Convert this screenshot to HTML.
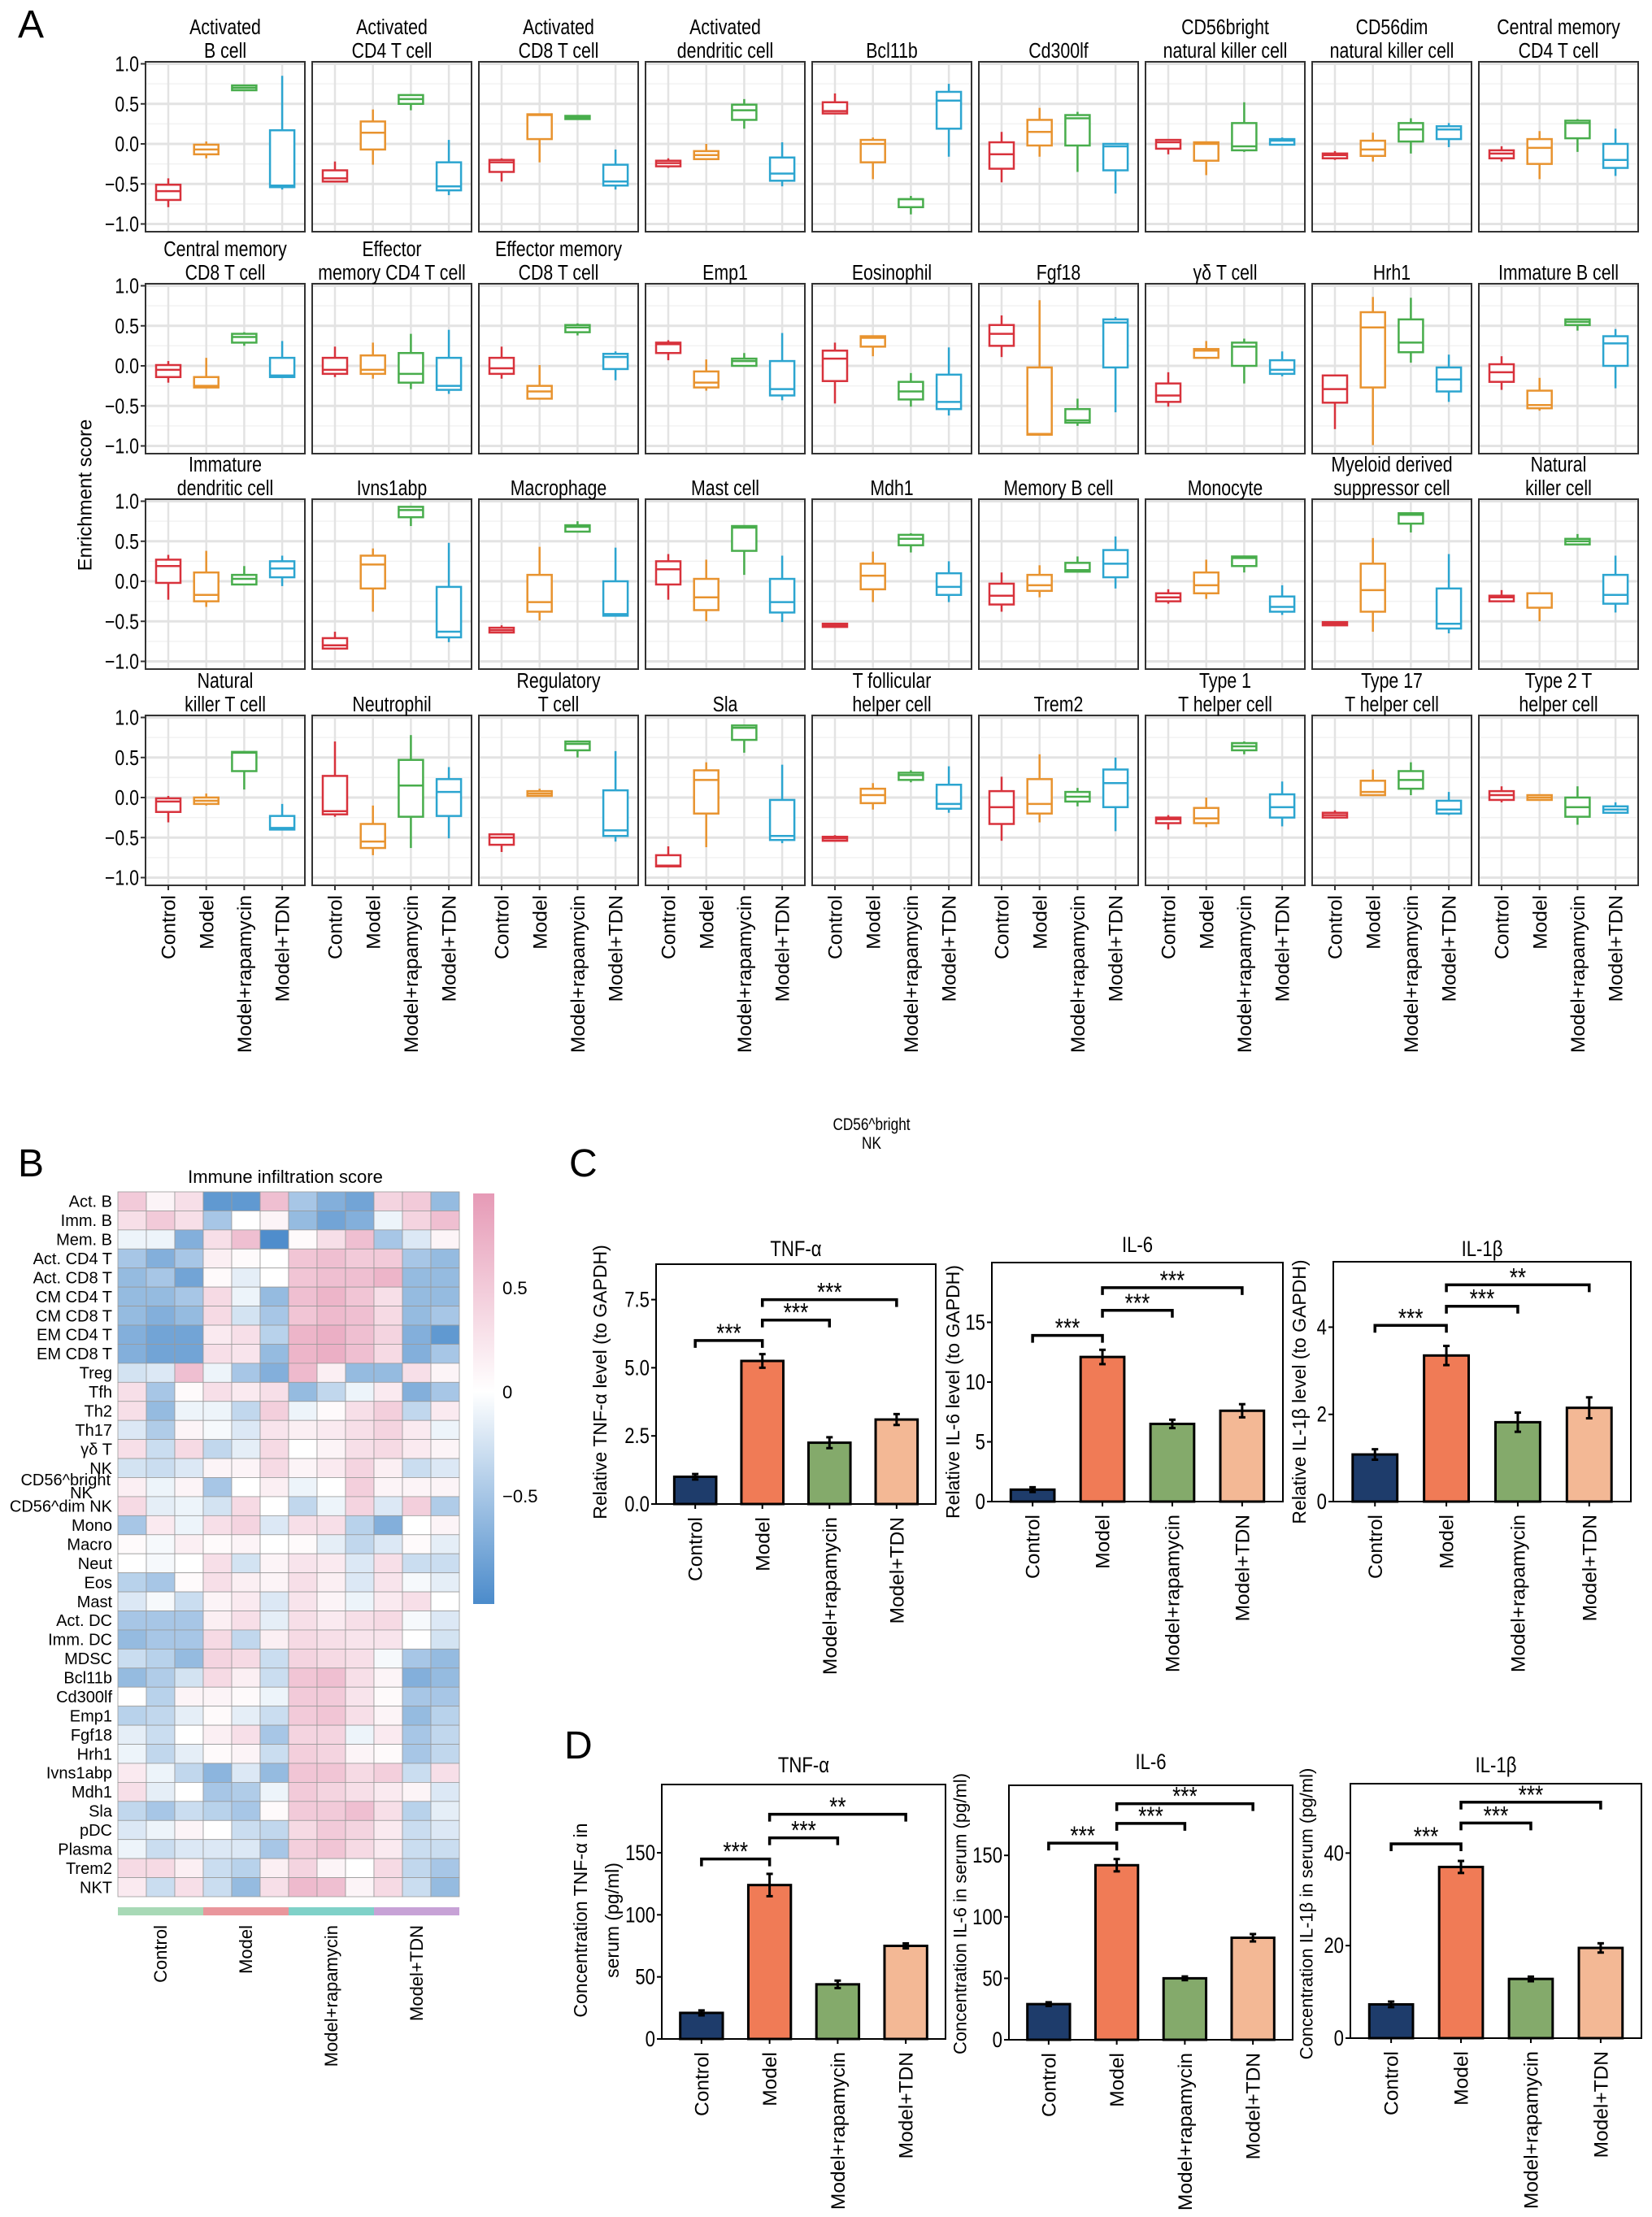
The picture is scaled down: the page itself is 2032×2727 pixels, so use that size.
<!DOCTYPE html>
<html><head><meta charset="utf-8">
<style>
html,body{margin:0;padding:0;background:#fff;}
svg{display:block;}
.n{font-family:"Liberation Sans Narrow","Liberation Sans",sans-serif;}
.r{font-family:"Liberation Sans",sans-serif;}
</style></head>
<body>
<svg id="fig" width="2032" height="2727" viewBox="0 0 2032 2727" xmlns="http://www.w3.org/2000/svg">
<defs>
<linearGradient id="cbar" x1="0" y1="0" x2="0" y2="1">
<stop offset="0" stop-color="#e69ab6"/><stop offset="0.483" stop-color="#ffffff"/><stop offset="1" stop-color="#4b8bcb"/>
</linearGradient>
</defs>
</svg>
<script>
// ---------- Panel A data ----------
const groups = ["Control","Model","Model+rapamycin","Model+TDN"];
const boxColors = ["#d8323c","#e8932f","#48ad4c","#2ca5d0"];
const panelTitles = [
["Activated","B cell"],["Activated","CD4 T cell"],["Activated","CD8 T cell"],["Activated","dendritic cell"],["","Bcl11b"],["","Cd300lf"],["CD56bright","natural killer cell"],["CD56dim","natural killer cell"],["Central memory","CD4 T cell"],
["Central memory","CD8 T cell"],["Effector","memory CD4 T cell"],["Effector memory","CD8 T cell"],["","Emp1"],["","Eosinophil"],["","Fgf18"],["","γδ T cell"],["","Hrh1"],["","Immature B cell"],
["Immature","dendritic cell"],["","Ivns1abp"],["","Macrophage"],["","Mast cell"],["","Mdh1"],["","Memory B cell"],["","Monocyte"],["Myeloid derived","suppressor cell"],["Natural","killer cell"],
["Natural","killer T cell"],["","Neutrophil"],["Regulatory","T cell"],["","Sla"],["T follicular","helper cell"],["","Trem2"],["Type 1","T helper cell"],["Type 17","T helper cell"],["Type 2 T","helper cell"]
];
// each panel: 4 groups of [min,q1,median,q3,max]
const boxStats = [
[[-0.79,-0.70,-0.59,-0.51,-0.43],[-0.18,-0.13,-0.07,-0.01,0.03],[0.67,0.67,0.70,0.73,0.74],[-0.57,-0.54,-0.52,0.17,0.85]],
[[-0.48,-0.47,-0.43,-0.33,-0.22],[-0.26,-0.07,0.14,0.28,0.43],[0.42,0.50,0.56,0.61,0.61],[-0.64,-0.58,-0.53,-0.23,0.05]],
[[-0.47,-0.35,-0.23,-0.20,-0.18],[-0.23,0.06,0.36,0.37,0.38],[0.31,0.31,0.33,0.35,0.35],[-0.57,-0.52,-0.47,-0.26,-0.07]],
[[-0.30,-0.28,-0.24,-0.21,-0.18],[-0.19,-0.19,-0.14,-0.09,0.00],[0.19,0.30,0.42,0.49,0.56],[-0.53,-0.46,-0.37,-0.17,0.02]],
[[0.38,0.38,0.41,0.52,0.63],[-0.44,-0.23,0.00,0.05,0.08],[-0.88,-0.79,-0.69,-0.69,-0.65],[-0.16,0.19,0.54,0.65,0.75]],
[[-0.48,-0.31,-0.13,0.02,0.15],[-0.16,-0.02,0.15,0.30,0.45],[-0.35,-0.02,0.32,0.36,0.40],[-0.62,-0.33,-0.03,0.00,0.01]],
[[-0.13,-0.06,0.02,0.05,0.06],[-0.39,-0.21,0.00,0.02,0.03],[-0.10,-0.08,-0.03,0.26,0.52],[-0.02,-0.01,0.04,0.06,0.08]],
[[-0.20,-0.18,-0.14,-0.12,-0.09],[-0.22,-0.15,-0.07,0.04,0.14],[-0.12,0.03,0.18,0.26,0.32],[-0.04,0.06,0.18,0.22,0.26]],
[[-0.22,-0.18,-0.12,-0.08,-0.03],[-0.44,-0.25,-0.05,0.06,0.16],[-0.10,0.07,0.26,0.29,0.31],[-0.40,-0.30,-0.20,0.00,0.19]],
[[-0.21,-0.14,-0.05,0.01,0.06],[-0.27,-0.27,-0.25,-0.14,0.10],[0.25,0.29,0.36,0.40,0.42],[-0.14,-0.14,-0.12,0.10,0.31]],
[[-0.14,-0.10,-0.05,0.10,0.24],[-0.16,-0.10,-0.05,0.13,0.29],[-0.29,-0.21,-0.10,0.16,0.40],[-0.35,-0.30,-0.25,0.10,0.45]],
[[-0.16,-0.10,-0.03,0.10,0.24],[-0.41,-0.41,-0.32,-0.25,0.01],[0.38,0.42,0.48,0.51,0.53],[-0.18,-0.04,0.11,0.15,0.18]],
[[0.07,0.16,0.27,0.29,0.32],[-0.31,-0.27,-0.21,-0.07,0.08],[0.00,0.00,0.06,0.09,0.16],[-0.43,-0.37,-0.29,0.06,0.41]],
[[-0.47,-0.19,0.09,0.19,0.29],[0.12,0.24,0.35,0.37,0.38],[-0.51,-0.42,-0.32,-0.20,-0.09],[-0.62,-0.54,-0.45,-0.11,0.23]],
[[0.11,0.25,0.40,0.51,0.63],[-0.86,-0.86,-0.85,-0.02,0.82],[-0.75,-0.71,-0.68,-0.54,-0.41],[-0.58,-0.02,0.54,0.58,0.61]],
[[-0.51,-0.45,-0.37,-0.22,-0.08],[0.10,0.10,0.19,0.21,0.31],[-0.22,0.00,0.24,0.29,0.34],[-0.13,-0.10,-0.05,0.07,0.18]],
[[-0.79,-0.46,-0.29,-0.12,-0.12],[-0.99,-0.27,0.48,0.67,0.86],[0.04,0.17,0.29,0.58,0.85],[-0.45,-0.32,-0.17,-0.02,0.14]],
[[-0.30,-0.20,-0.08,0.02,0.12],[-0.56,-0.53,-0.49,-0.31,-0.15],[0.44,0.51,0.55,0.58,0.59],[-0.28,0.00,0.28,0.37,0.46]],
[[-0.23,-0.02,0.19,0.27,0.33],[-0.32,-0.25,-0.17,0.11,0.38],[-0.04,-0.04,0.03,0.08,0.19],[-0.06,0.05,0.16,0.25,0.32]],
[[-0.84,-0.84,-0.80,-0.71,-0.63],[-0.38,-0.09,0.21,0.32,0.41],[0.69,0.80,0.89,0.93,0.93],[-0.76,-0.70,-0.63,-0.07,0.48]],
[[-0.64,-0.64,-0.61,-0.58,-0.55],[-0.49,-0.38,-0.26,0.08,0.43],[0.62,0.62,0.68,0.70,0.75],[-0.43,-0.43,-0.41,0.00,0.42]],
[[-0.23,-0.04,0.15,0.25,0.34],[-0.50,-0.36,-0.20,0.03,0.27],[0.08,0.38,0.67,0.69,0.69],[-0.51,-0.39,-0.26,0.03,0.32]],
[[-0.57,-0.57,-0.55,-0.53,-0.53],[-0.26,-0.10,0.07,0.22,0.37],[0.36,0.45,0.53,0.58,0.60],[-0.26,-0.17,-0.07,0.10,0.25]],
[[-0.38,-0.29,-0.18,-0.03,0.11],[-0.20,-0.12,-0.05,0.08,0.20],[0.12,0.12,0.14,0.23,0.31],[-0.09,0.05,0.22,0.39,0.56]],
[[-0.28,-0.25,-0.20,-0.15,-0.10],[-0.22,-0.15,-0.05,0.11,0.27],[0.11,0.19,0.29,0.31,0.32],[-0.42,-0.38,-0.32,-0.19,-0.05]],
[[-0.55,-0.55,-0.53,-0.51,-0.51],[-0.63,-0.38,-0.11,0.22,0.54],[0.61,0.72,0.83,0.85,0.85],[-0.65,-0.59,-0.53,-0.09,0.34]],
[[-0.25,-0.25,-0.20,-0.18,-0.11],[-0.50,-0.33,-0.15,-0.15,-0.14],[0.46,0.46,0.50,0.53,0.59],[-0.39,-0.28,-0.17,0.08,0.32]],
[[-0.31,-0.18,-0.05,-0.01,0.02],[-0.10,-0.08,-0.04,0.00,0.05],[0.10,0.33,0.56,0.57,0.57],[-0.40,-0.40,-0.38,-0.23,-0.08]],
[[-0.24,-0.21,-0.17,0.27,0.70],[-0.72,-0.63,-0.55,-0.33,-0.10],[-0.63,-0.24,0.15,0.47,0.78],[-0.51,-0.23,0.07,0.23,0.38]],
[[-0.68,-0.59,-0.50,-0.46,-0.45],[0.02,0.02,0.05,0.08,0.11],[0.50,0.59,0.67,0.70,0.70],[-0.55,-0.48,-0.41,0.09,0.58]],
[[-0.86,-0.86,-0.85,-0.72,-0.61],[-0.62,-0.20,0.22,0.34,0.44],[0.56,0.72,0.87,0.90,0.90],[-0.57,-0.53,-0.48,-0.03,0.41]],
[[-0.54,-0.54,-0.51,-0.49,-0.47],[-0.15,-0.07,0.03,0.11,0.18],[0.19,0.22,0.28,0.31,0.34],[-0.19,-0.14,-0.08,0.16,0.39]],
[[-0.54,-0.33,-0.12,0.08,0.26],[-0.31,-0.20,-0.08,0.23,0.54],[-0.11,-0.05,0.01,0.07,0.12],[-0.42,-0.12,0.18,0.35,0.50]],
[[-0.40,-0.32,-0.27,-0.25,-0.22],[-0.37,-0.32,-0.26,-0.13,0.00],[0.54,0.59,0.64,0.68,0.70],[-0.36,-0.25,-0.12,0.04,0.20]],
[[-0.25,-0.25,-0.22,-0.19,-0.16],[0.03,0.03,0.07,0.21,0.35],[0.03,0.11,0.22,0.33,0.44],[-0.22,-0.20,-0.15,-0.04,0.07]],
[[-0.06,-0.03,0.03,0.08,0.14],[-0.04,-0.03,0.00,0.03,0.04],[-0.34,-0.24,-0.12,0.00,0.14],[-0.19,-0.19,-0.15,-0.11,-0.06]]
];
const yTicksA = [-1,-0.5,0,0.5,1];
const yTickLabelsA = ["−1.0","−0.5","0.0","0.5","1.0"];

// ---------- Panel B data ----------
const heatRows = ["Act. B","Imm. B","Mem. B","Act. CD4 T","Act. CD8 T","CM CD4 T","CM CD8 T","EM CD4 T","EM CD8 T","Treg","Tfh","Th2","Th17","γδ T","NK","CD56^bright NK","CD56^dim NK","Mono","Macro","Neut","Eos","Mast","Act. DC","Imm. DC","MDSC","Bcl11b","Cd300lf","Emp1","Fgf18","Hrh1","Ivns1abp","Mdh1","Sla","pDC","Plasma","Trem2","NKT"];
const heatValues = [
[0.5,0.1,0.3,-0.9,-0.9,0.6,-0.5,-0.7,-0.8,0.4,0.5,-0.6],
[0.3,0.5,0.3,-0.5,0,0.1,-0.6,-0.8,-0.7,-0.1,0.4,0.6],
[-0.1,-0.1,-0.7,0.3,0.6,-1.0,0.05,0.3,0.6,-0.5,-0.2,0.1],
[-0.5,-0.7,-0.5,0.15,0.05,0,0.55,0.6,0.5,0.5,-0.5,-0.6],
[-0.6,-0.5,-0.8,0.05,-0.15,0,0.55,0.6,0.6,0.7,-0.6,-0.6],
[-0.6,-0.6,-0.5,0.35,-0.1,-0.6,0.6,0.7,0.55,0.3,-0.6,-0.6],
[-0.6,-0.7,-0.6,0.35,-0.25,-0.5,0.55,0.65,0.6,0.35,-0.6,-0.5],
[-0.7,-0.8,-0.8,0.2,0.3,-0.4,0.7,0.75,0.6,0.4,-0.7,-0.9],
[-0.7,-0.8,-0.8,0.3,0.25,-0.6,0.7,0.75,0.6,0.35,-0.7,-0.5],
[-0.25,-0.2,0.6,-0.1,-0.5,-0.7,0.65,0.15,-0.6,-0.6,0.3,0.1],
[0.3,-0.5,0.05,0.3,0.2,0.3,-0.6,-0.35,-0.1,0.2,-0.7,-0.5],
[0.3,-0.6,-0.1,-0.1,-0.35,0.45,-0.1,0.05,0.3,0.45,-0.35,0.2],
[-0.2,-0.45,0.1,-0.05,-0.2,0.25,0.15,0.2,0.3,0.4,0.2,-0.1],
[0.3,-0.3,0.35,-0.35,-0.15,0.35,0,0.1,0.3,0.35,0.2,0.1],
[-0.25,-0.3,-0.2,0.1,0.1,0.35,0.1,0.2,0.4,0.15,-0.3,-0.2],
[0.15,-0.1,0.1,-0.5,0,0.15,-0.1,0,0.45,0.1,0.1,0.1],
[0.35,-0.15,-0.1,-0.25,0.35,0,-0.35,-0.1,0.4,-0.2,0.45,-0.45],
[-0.5,0.2,-0.1,0.3,0.4,-0.2,0.3,0.3,-0.4,-0.7,0,0.1],
[0.05,-0.05,0.15,0.05,0.1,0,0.05,-0.15,-0.35,-0.2,0.05,-0.15],
[0,-0.05,0,0.3,-0.25,0.1,0.25,0.2,-0.2,0.3,-0.3,-0.3],
[-0.4,-0.5,0.05,0.3,0.15,0.1,0.3,0.15,-0.2,0.25,-0.05,-0.15],
[-0.2,-0.05,-0.3,0.1,0.2,-0.2,0.25,0.1,-0.1,0.2,0.3,0],
[-0.5,-0.5,-0.5,0.15,0.3,-0.15,0.3,0.2,0.3,0.35,-0.05,-0.2],
[-0.6,-0.5,-0.5,0.35,-0.35,0.15,0.35,0.3,0.25,0.25,0,-0.25],
[-0.3,-0.4,-0.6,0.4,0.35,-0.3,0.4,0.35,0.3,-0.05,-0.5,-0.6],
[-0.6,-0.45,-0.25,0.35,0.15,-0.3,0.55,0.6,0.3,0.1,-0.7,-0.6],
[0,-0.4,0.1,0.1,0.05,-0.1,0.5,0.5,0.25,0.05,-0.5,-0.5],
[-0.4,-0.35,-0.15,0.05,-0.15,-0.3,0.5,0.55,0.3,0.1,-0.6,-0.4],
[-0.15,-0.3,0,0.15,0.3,-0.5,0.4,0.4,-0.1,0.2,-0.5,-0.35],
[-0.1,-0.35,-0.15,0.05,0.1,-0.3,0.45,0.4,0.1,0.05,-0.5,-0.35],
[0.2,-0.1,-0.35,-0.65,-0.2,-0.6,0.55,0.55,0.35,0.45,-0.3,0.3],
[0.3,-0.15,0,-0.5,-0.45,-0.1,0.5,0.4,0.3,0.2,0.1,-0.2],
[-0.35,-0.5,-0.3,-0.4,-0.5,0.05,0.5,0.5,0.6,0.3,-0.4,-0.15],
[-0.2,-0.1,0.1,0,-0.3,-0.35,0.35,0.5,0.4,0.2,-0.3,-0.2],
[-0.1,-0.3,-0.2,-0.2,-0.2,-0.5,0.45,0.55,0.35,0.2,-0.3,-0.3],
[0.35,0.35,0.15,-0.3,-0.4,0.15,0.4,0.1,0,0.35,-0.35,-0.5],
[0.2,-0.3,0.3,-0.3,-0.6,0.3,0.65,0.6,0.1,0.35,-0.3,-0.6]
];
const heatGroupColors = ["#a8d9b6","#e9969c","#7fd1c8","#c7a2d6"];
const cbarTicks = [0.5,0,-0.5];
const cbarTickLabels = ["0.5","0","−0.5"];

// ---------- Panels C & D data ----------
const barColors = ["#1e3c6b","#f07b56","#84aa6b","#f3b895"];
const cTnfValues = [1.0,5.25,2.25,3.1];
const cTnfErrors = [0.1,0.25,0.2,0.2];
const cIl6Values = [1.0,12.1,6.5,7.6];
const cIl6Errors = [0.2,0.6,0.35,0.55];
const cIl1bValues = [1.08,3.35,1.82,2.15];
const cIl1bErrors = [0.12,0.22,0.22,0.24];
const dTnfValues = [21,124,44,75];
const dTnfErrors = [2,9,3,2];
const dIl6Values = [29,142,50,83];
const dIl6Errors = [1.5,5,1.5,3];
const dIl1bValues = [7.3,37,12.8,19.5];
const dIl1bErrors = [0.6,1.3,0.5,1.0];
const cTnfTicks = [0,2.5,5,7.5]; const cTnfTickLabels = ["0.0","2.5","5.0","7.5"];
const cIl6Ticks = [0,5,10,15]; const cIl6TickLabels = ["0","5","10","15"];
const cIl1bTicks = [0,2,4]; const cIl1bTickLabels = ["0","2","4"];
const dTnfTicks = [0,50,100,150]; const dTnfTickLabels = ["0","50","100","150"];
const dIl6Ticks = [0,50,100,150]; const dIl6TickLabels = ["0","50","100","150"];
const dIl1bTicks = [0,20,40]; const dIl1bTickLabels = ["0","20","40"];
const cTnfBrackets = [[0,1,6.0,"***"],[1,2,6.75,"***"],[1,3,7.5,"***"]];
const cIl6Brackets = [[0,1,13.9,"***"],[1,2,16.0,"***"],[1,3,17.9,"***"]];
const cIl1bBrackets = [[0,1,4.04,"***"],[1,2,4.48,"***"],[1,3,4.97,"**"]];
const dTnfBrackets = [[0,1,145,"***"],[1,2,162,"***"],[1,3,181,"**"]];
const dIl6Brackets = [[0,1,160,"***"],[1,2,176,"***"],[1,3,192,"***"]];
const dIl1bBrackets = [[0,1,42,"***"],[1,2,46.5,"***"],[1,3,51,"***"]];

// ---------- drawing ----------
const NS = 'http://www.w3.org/2000/svg';
const svg = document.getElementById('fig');
function mk(tag, parent) { const e = document.createElementNS(NS, tag); (parent || svg).appendChild(e); return e; }
function setA(e, o) { for (const k in o) e.setAttribute(k, o[k]); return e; }
function line(p, x1, y1, x2, y2, stroke, w) { const l = mk('line', p); setA(l, {x1, y1, x2, y2, stroke, 'stroke-width': w}); return l; }
function text(p, x, y, s, size, cls, anchor, rot) {
  const t = mk('text', p);
  setA(t, {x: 0, y: 0, 'font-size': size, 'class': cls, 'text-anchor': anchor || 'middle', fill: '#000'});
  let tr = 'translate(' + x + ',' + y + ')';
  if (rot) { tr += ' rotate(' + rot + ')'; t.setAttribute('dy', '0.35em'); }
  if (cls === 'n') tr += ' scale(0.82,1)';
  t.setAttribute('transform', tr);
  t.textContent = s; return t;
}

// Panel letters
[["A",22,46],["B",22,1447],["C",700,1447],["D",694,2163]].forEach(function (d) {
  const t = text(svg, d[1], d[2], d[0], 48, 'r', 'start');
  
  
});

// ---- Panel A ----
const gA = mk('g');


const rowZero = [177, 450, 715, 981];
const unitA = 98.5, pW = 196;
function colLeft(c) { return 179 + c * 205; }
function catX(c, i) { return colLeft(c) + 28 + i * 46.7; }
boxStats.forEach(function (panel, pi) {
  const r = Math.floor(pi / 9), c = pi % 9;
  const z = rowZero[r], L = colLeft(c), T = z - 101, B = z + 108;
  const yv = function (v) { return z - v * unitA; };
  const g = mk('g', gA);
  
  
  const bg = mk('rect', g); setA(bg, {x: L, y: T, width: pW, height: B - T, fill: '#fff'});
  [-0.75, -0.25, 0.25, 0.75].forEach(function (v) { line(g, L, yv(v), L + pW, yv(v), '#f2f2f2', 1.5); });
  yTicksA.forEach(function (v) { line(g, L, yv(v), L + pW, yv(v), '#e3e3e3', 3); });
  for (let i = 0; i < 4; i++) line(g, catX(c, i), T, catX(c, i), B, '#e3e3e3', 2.5);
  panel.forEach(function (s, gi) {
    const x = catX(c, gi), col = boxColors[gi], hw = 15;
    const bx = mk('g', g);
    
    
    line(bx, x, yv(s[4]), x, yv(s[3]), col, 2.5);
    line(bx, x, yv(s[1]), x, yv(s[0]), col, 2.5);
    const rc = mk('rect', bx);
    setA(rc, {x: x - hw, y: yv(s[3]), width: 2 * hw, height: Math.max(1, yv(s[1]) - yv(s[3])), fill: '#fff', stroke: col, 'stroke-width': 2.5});
    line(bx, x - hw, yv(s[2]), x + hw, yv(s[2]), col, 2.5);
  });
  const fr = mk('rect', g); setA(fr, {x: L, y: T, width: pW, height: B - T, fill: 'none', stroke: '#333', 'stroke-width': 2});
  const tt = panelTitles[pi];
  if (tt[0]) {
    const t1 = text(g, L + pW / 2, T - 34, tt[0], 26, 'n');
    
    
  }
  const t2 = text(g, L + pW / 2, T - 5, tt[1], 26, 'n');
  
  
  if (c === 0) {
    yTicksA.forEach(function (v, k) {
      line(g, L - 6, yv(v), L, yv(v), '#333', 2);
      const tl = text(g, L - 8, yv(v) + 9, yTickLabelsA[k], 26, 'n', 'end');
      
      
    });
  }
  if (r === 3) {
    groups.forEach(function (gn, i) {
      line(g, catX(c, i), B, catX(c, i), B + 6, '#333', 2);
      const xl = text(g, catX(c, i), B + 12, gn, 24.5, 'r', 'end', -90);
      
      
    });
  }
});
const yTitleA = text(gA, 104, 609, 'Enrichment score', 24, 'r', 'middle', -90);



// ---- Panel B heatmap ----
const gB = mk('g');


const hL = 145, hT = 1466, cw = 35, rh = 867 / heatRows.length;
function mix(a, b, t) { return Math.round(a + (b - a) * t); }
function heatColor(v) {
  let t, c;
  if (v >= 0) { t = Math.min(1, v / 0.95); c = [230, 154, 182]; } else { t = Math.min(1, -v / 1.02); c = [75, 139, 203]; }
  return 'rgb(' + mix(255, c[0], t) + ',' + mix(255, c[1], t) + ',' + mix(255, c[2], t) + ')';
}
const hTitle = text(gB, 351, 1455, 'Immune infiltration score', 22, 'r');


heatValues.forEach(function (row, i) {
  row.forEach(function (v, j) {
    const rc = mk('rect', gB);
    setA(rc, {x: hL + j * cw, y: hT + i * rh, width: cw, height: rh, fill: heatColor(v), stroke: '#9a9a9a', 'stroke-width': 0.8});
    
    
  });
  const nm = heatRows[i];
  const cy = hT + i * rh + rh / 2 + 7;
  if (nm === 'CD56^bright NK') {
    const la = text(gB, 136, cy - 9, 'CD56^bright', 20, 'r', 'end');
    
    
    const lb2 = text(gB, 100, cy + 7, 'NK', 20, 'r', 'middle');
    
    
  } else {
    const lb = text(gB, 138, cy, nm, 20, 'r', 'end');
    
    
  }
});
groups.forEach(function (gn, k) {
  const rc = mk('rect', gB);
  setA(rc, {x: hL + k * 3 * cw, y: 2346, width: 3 * cw, height: 10, fill: heatGroupColors[k]});
  
  
  const xl = text(gB, hL + (k * 3 + 1.5) * cw, 2368, gn, 22, 'r', 'end', -90);
  
  
});
const cb = mk('rect', gB);
setA(cb, {x: 582, y: 1468, width: 26, height: 505, fill: 'url(#cbar)'});


const cbY = function (v) { return 1712 - v * 256; };
cbarTicks.forEach(function (v, k) {
  const tl = text(gB, 618, cbY(v) + 8, cbarTickLabels[k], 22, 'r', 'start');
  
  
});

// stray label
const s1 = text(svg, 1072, 1390, 'CD56^bright', 21, 'n');


const s2 = text(svg, 1072, 1413, 'NK', 21, 'n');



// ---- bar charts ----
function barChart(name, L, R, T, B, ymax, values, errors, ticks, tickLabels, brackets, title, titleY, ytitle, ytitleX, ytitleY, ytSize) {
  const g = mk('g');
  
  
  const w = R - L;
  const yv = function (v) { return B - v / ymax * (B - T); };
  const xc = function (i) { return L + w * (0.14 + 0.24 * i); };
  const bw = w * 0.15;
  values.forEach(function (v, i) {
    const r = mk('rect', g);
    setA(r, {x: xc(i) - bw / 2, y: yv(v), width: bw, height: B - yv(v), fill: barColors[i], stroke: '#000', 'stroke-width': 3});
    
    
    const eb = mk('g', g);
    
    
    line(eb, xc(i), yv(v + errors[i]), xc(i), yv(v - errors[i]), '#000', 3);
    line(eb, xc(i) - 4, yv(v + errors[i]), xc(i) + 4, yv(v + errors[i]), '#000', 3);
    line(eb, xc(i) - 4, yv(v - errors[i]), xc(i) + 4, yv(v - errors[i]), '#000', 3);
  });
  const fr = mk('rect', g);
  setA(fr, {x: L, y: T, width: w, height: B - T, fill: 'none', stroke: '#000', 'stroke-width': 2});
  ticks.forEach(function (v, k) {
    line(g, L - 6, yv(v), L, yv(v), '#000', 2);
    const tl = text(g, L - 8, yv(v) + 9, tickLabels[k], 27, 'n', 'end');
    
    
  });
  groups.forEach(function (gn, i) {
    line(g, xc(i), B, xc(i), B + 6, '#000', 2);
    const xl = text(g, xc(i), B + 16, gn, 24.5, 'r', 'end', -90);
    
    
  });
  brackets.forEach(function (b) {
    const y = yv(b[2]);
    const bk = mk('path', g);
    setA(bk, {d: 'M' + xc(b[0]) + ',' + (y + 9) + 'V' + y + 'H' + xc(b[1]) + 'V' + (y + 9), fill: 'none', stroke: '#000', 'stroke-width': 3.5});
    
    
    const st = text(g, (xc(b[0]) + xc(b[1])) / 2, y + 2, b[3], 32, 'n');
    
    
  });
  const tt = text(g, (L + R) / 2, titleY, title, 27, 'n');
  
  
  ytitle.forEach(function (s, k) {
    const yt = text(g, ytitleX[k], ytitleY, s, ytSize, 'r', 'middle', -90);
    
    
  });
}
barChart('panel-c-tnf', 807, 1151, 1555, 1850, 8.8, cTnfValues, cTnfErrors, cTnfTicks, cTnfTickLabels, cTnfBrackets, 'TNF-α', 1545, ['Relative TNF-α level (to GAPDH)'], [738], 1700, 23);
barChart('panel-c-il6', 1220, 1578, 1553, 1847, 20, cIl6Values, cIl6Errors, cIl6Ticks, cIl6TickLabels, cIl6Brackets, 'IL-6', 1540, ['Relative IL-6 level (to GAPDH)'], [1172], 1712, 23);
barChart('panel-c-il1b', 1640, 2006, 1552, 1847, 5.5, cIl1bValues, cIl1bErrors, cIl1bTicks, cIl1bTickLabels, cIl1bBrackets, 'IL-1β', 1545, ['Relative IL-1β level (to GAPDH)'], [1598], 1712, 23);
barChart('panel-d-tnf', 814, 1163, 2195, 2508, 205, dTnfValues, dTnfErrors, dTnfTicks, dTnfTickLabels, dTnfBrackets, 'TNF-α', 2180, ['Concentration TNF-α in', 'serum (pg/ml)'], [714, 753], 2362, 23);
barChart('panel-d-il6', 1241, 1590, 2196, 2509, 207, dIl6Values, dIl6Errors, dIl6Ticks, dIl6TickLabels, dIl6Brackets, 'IL-6', 2176, ['Concentration IL-6 in serum (pg/ml)'], [1181], 2354, 22);
barChart('panel-d-il1b', 1661, 2019, 2194, 2507, 55, dIl1bValues, dIl1bErrors, dIl1bTicks, dIl1bTickLabels, dIl1bBrackets, 'IL-1β', 2180, ['Concentration IL-1β in serum (pg/ml)'], [1607], 2354, 22);
</script>
</body></html>
